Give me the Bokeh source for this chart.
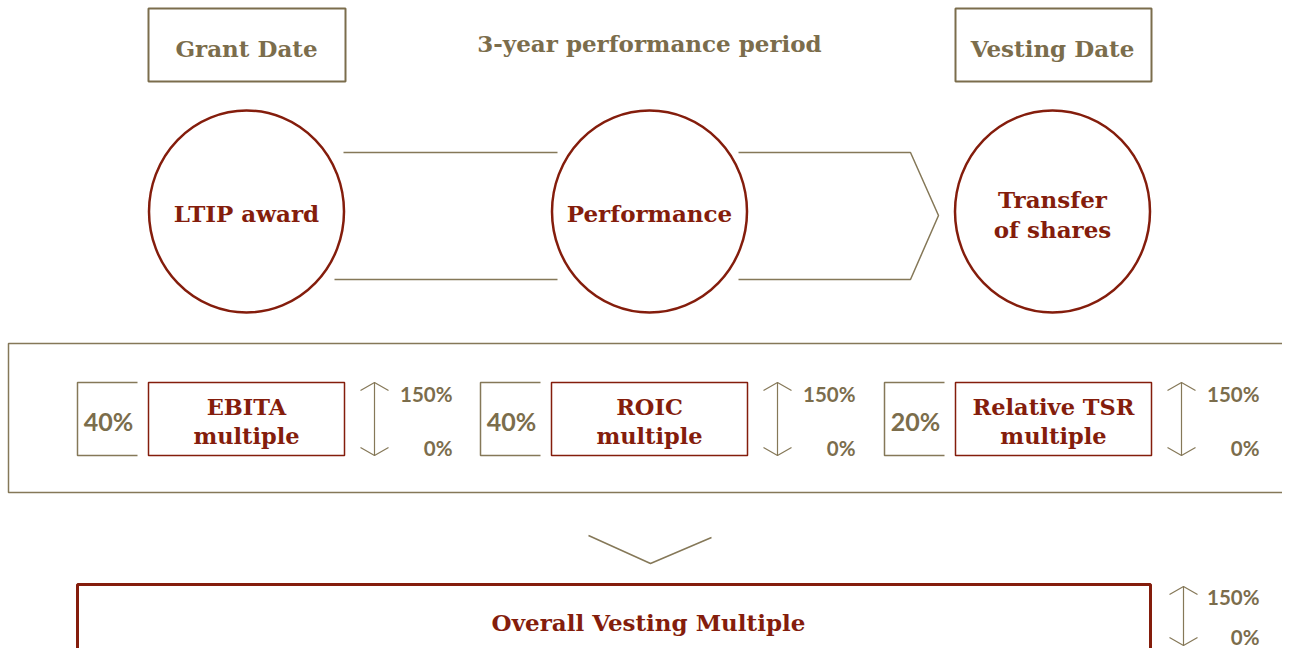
from bokeh.plotting import figure
from bokeh.models import Range1d
from bokeh.core.properties import value
from bokeh.embed import file_html
from bokeh.resources import INLINE

# ---- data ----
header_labels = ["Grant Date", "3-year performance period", "Vesting Date"]
stage_labels = ["LTIP award", "Performance", "Transfer\nof shares"]
measure_labels = ["EBITA\nmultiple", "ROIC\nmultiple", "Relative TSR\nmultiple"]
measure_weights = [40, 40, 20]
range_max = 150
range_min = 0
overall_label = "Overall Vesting Multiple"

TAN = "#7b6d4c"
LINE_TAN = "#857858"
RED = "#841d0c"
SERIF = value("DejaVu Serif")
SANS = value("Lato")
FS = "23px"

W, H = 1282, 648
p = figure(width=W, height=H, output_backend="svg", toolbar_location=None,
           x_range=Range1d(0, W), y_range=Range1d(H, 0),
           min_border=0, min_border_left=0, min_border_right=0,
           min_border_top=0, min_border_bottom=0)
p.axis.visible = False
p.grid.visible = False
p.outline_line_color = None
p.background_fill_color = "white"
p.border_fill_color = "white"

# column centres
cx = [246, 649, 1052]

# ---- header ----
p.quad(left=[148, 955], right=[345, 1151], top=[8, 8], bottom=[81, 81],
       fill_color=None, line_color=TAN, line_width=2)
p.text(x=[cx[0], cx[1], cx[2]], y=[47.5, 42.5, 47.5], text=header_labels,
       text_align="center", text_baseline="middle", text_color=TAN,
       text_font=SERIF, text_font_style="bold", text_font_size=FS)

# ---- stage circles ----
p.ellipse(x=cx, y=[211] * 3, width=[195] * 3, height=[202] * 3,
          fill_color=None, line_color=RED, line_width=2.5)
p.text(x=cx, y=[212.5, 212.5, 214], text=stage_labels,
       text_align="center", text_baseline="middle", text_color=RED,
       text_font=SERIF, text_font_style="bold", text_font_size=FS,
       text_line_height=1.08)

# connectors
p.multi_line(xs=[[343, 557], [334, 557], [738, 910, 938, 910, 738]],
             ys=[[152, 152], [279, 279], [152, 152, 215, 279, 279]],
             line_color=LINE_TAN, line_width=1.5)

# ---- measures frame ----
p.quad(left=[8], right=[1300], top=[343], bottom=[492],
       fill_color=None, line_color=LINE_TAN, line_width=1.5)

gx = [77, 480, 884]
ytop, ybot = 382, 455
ymid = (ytop + ybot) / 2

bxs, bys = [], []
for x0 in gx:
    bxs.append([x0 + 60, x0, x0, x0 + 60])
    bys.append([ytop, ytop, ybot, ybot])
p.multi_line(xs=bxs, ys=bys, line_color=LINE_TAN, line_width=1.5)
p.text(x=[x0 + 31 for x0 in gx], y=[ymid + 2] * 3,
       text=[f"{w}%" for w in measure_weights],
       text_align="center", text_baseline="middle", text_color=TAN,
       text_font=SANS, text_font_style="bold", text_font_size="25px")

p.quad(left=[x0 + 71 for x0 in gx], right=[x0 + 267 for x0 in gx],
       top=[ytop] * 3, bottom=[ybot] * 3,
       fill_color=None, line_color=RED, line_width=1.5)
p.text(x=[x0 + 169 for x0 in gx], y=[ymid + 2.5] * 3, text=measure_labels,
       text_align="center", text_baseline="middle", text_color=RED,
       text_font=SERIF, text_font_style="bold", text_font_size="22.5px",
       text_line_height=1.08)


def updown(ax, y0, y1, lx, y_hi, y_lo):
    p.multi_line(xs=[[ax, ax], [ax - 14, ax, ax + 14], [ax - 14, ax, ax + 14]],
                 ys=[[y0, y1], [y0 + 8, y0, y0 + 8], [y1 - 8, y1, y1 - 8]],
                 line_color=LINE_TAN, line_width=1.2)
    p.text(x=[lx, lx], y=[y_hi, y_lo],
           text=[f"{range_max}%", f"{range_min}%"],
           text_align="right", text_baseline="middle", text_color=TAN,
           text_font=SANS, text_font_style="bold", text_font_size="20.5px")


for x0 in gx:
    updown(x0 + 297, ytop, ybot, x0 + 375, ytop + 11, ybot - 8)

# ---- chevron down ----
p.line(x=[588, 650, 711], y=[535, 563, 537], line_color=LINE_TAN, line_width=1.5)

# ---- overall ----
p.quad(left=[77], right=[1150], top=[584], bottom=[720],
       fill_color=None, line_color=RED, line_width=3)
p.text(x=[648], y=[622], text=[overall_label],
       text_align="center", text_baseline="middle", text_color=RED,
       text_font=SERIF, text_font_style="bold", text_font_size=FS)
updown(1183, 586, 645, 1259, 596, 636)

open("out.html", "w").write(file_html(p, INLINE))
